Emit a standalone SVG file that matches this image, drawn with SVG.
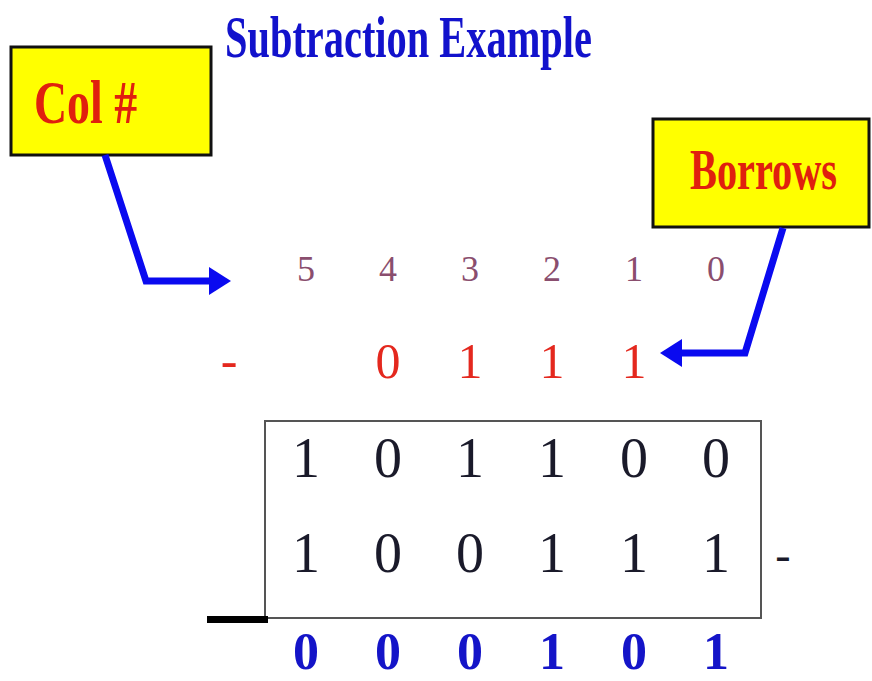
<svg xmlns="http://www.w3.org/2000/svg" width="872" height="681" viewBox="0 0 872 681">
<style>
.serif{font-family:"Liberation Serif","Times New Roman",serif}
.title{font-weight:bold;font-size:59px;fill:#1212CC}
.label{font-weight:bold;fill:#E0200E}
.box{fill:#FFFF00;stroke:#111;stroke-width:3}
.colnum{font-size:36px;fill:#8A4E6E;text-anchor:middle}
.borrow{font-size:50px;fill:#E4281E;text-anchor:middle}
.digit{font-size:56px;fill:#1A1A2A;text-anchor:middle}
.result{font-size:52px;font-weight:bold;fill:#1414C8;text-anchor:middle}
.conn{fill:none;stroke:#0A0AF0;stroke-width:7;stroke-linejoin:miter}
.head{fill:#0A0AF0}
</style>
<rect width="872" height="681" fill="#fff"/>
<text class="serif title" transform="translate(225,57) scale(0.685,1)" x="0" y="0">Subtraction Example</text>
<g id="colbox">
<rect class="box" x="11" y="47" width="200" height="108"/>
<text class="serif label" transform="translate(34,123) scale(0.74,1)" font-size="62">Col #</text>
</g>
<g id="borrowsbox">
<rect class="box" x="653" y="119" width="216" height="108"/>
<text class="serif label" transform="translate(690,189) scale(0.72,1)" font-size="56">Borrows</text>
</g>
<g id="connectors">
<polyline class="conn" points="105,155 146,281 212,281"/>
<polygon class="head" points="209,267 231,281 209,295"/>
<polyline class="conn" points="783,228 745,353 679,353"/>
<polygon class="head" points="682,339 660,353 682,367"/>
</g>
<g id="colnums" class="serif">
<text class="colnum" x="306" y="281">5</text>
<text class="colnum" x="388" y="281">4</text>
<text class="colnum" x="470" y="281">3</text>
<text class="colnum" x="552" y="281">2</text>
<text class="colnum" x="634" y="281">1</text>
<text class="colnum" x="716" y="281">0</text>
</g>
<g id="borrows" class="serif">
<text class="borrow" x="229" y="377">-</text>
<text class="borrow" x="388" y="378">0</text>
<text class="borrow" x="470" y="378">1</text>
<text class="borrow" x="552" y="378">1</text>
<text class="borrow" x="634" y="378">1</text>
</g>
<g id="frame">
<rect x="265" y="421" width="496" height="197" fill="none" stroke="#555" stroke-width="2"/>
<rect x="207" y="616" width="61" height="7" fill="#000"/>
</g>
<g id="minuend" class="serif">
<text class="digit" x="306" y="477">1</text>
<text class="digit" x="388" y="477">0</text>
<text class="digit" x="470" y="477">1</text>
<text class="digit" x="552" y="477">1</text>
<text class="digit" x="634" y="477">0</text>
<text class="digit" x="716" y="477">0</text>
</g>
<g id="subtrahend" class="serif">
<text class="digit" x="306" y="572">1</text>
<text class="digit" x="388" y="572">0</text>
<text class="digit" x="470" y="572">0</text>
<text class="digit" x="552" y="572">1</text>
<text class="digit" x="634" y="572">1</text>
<text class="digit" x="716" y="572">1</text>
<text class="digit" x="783" y="570" style="font-size:46px">-</text>
</g>
<g id="result" class="serif">
<text class="result" x="306" y="669">0</text>
<text class="result" x="388" y="669">0</text>
<text class="result" x="470" y="669">0</text>
<text class="result" x="552" y="669">1</text>
<text class="result" x="634" y="669">0</text>
<text class="result" x="716" y="669">1</text>
</g>
</svg>
